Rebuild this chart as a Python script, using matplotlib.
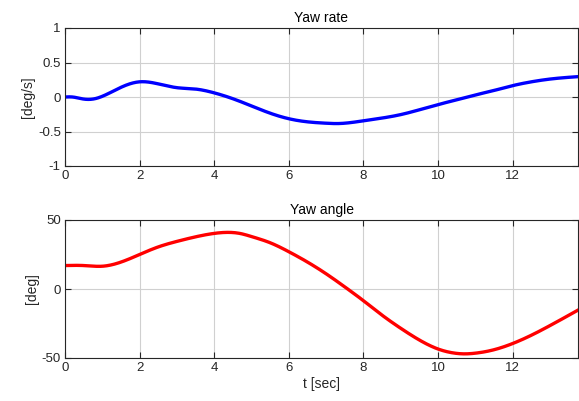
import matplotlib
matplotlib.use("Agg")
import matplotlib.pyplot as plt
import numpy as np

plt.rcParams['font.family'] = ['Liberation Sans', 'DejaVu Sans']
plt.rcParams['axes.unicode_minus'] = False

t_rate = [0, 0.2, 0.5, 0.8, 1.0, 1.5, 2.0, 2.5, 3.0, 3.5, 4.0, 4.5, 5.0, 5.5, 6.0,
          6.5, 7.0, 7.3, 8.0, 8.5, 9.0, 9.5, 10.0, 10.5, 11.0, 11.5, 12.0, 12.5, 13.0, 13.75]
yaw_rate = [0.0, 0.0, -0.03, -0.025, 0.01, 0.14, 0.22, 0.19, 0.135, 0.115, 0.06, -0.025, -0.13, -0.235, -0.315,
            -0.36, -0.38, -0.385, -0.345, -0.305, -0.255, -0.185, -0.11, -0.04, 0.03, 0.095, 0.165, 0.22, 0.26, 0.295]

t_angle = [0, 0.5, 1.0, 1.5, 2.0, 2.5, 3.0, 3.5, 4.0, 4.3, 4.7, 5.0, 5.5, 6.0, 6.5, 7.0, 7.5, 8.0,
           8.5, 9.0, 9.5, 10.0, 10.4, 10.7, 11.0, 11.5, 12.0, 12.5, 13.0, 13.75]
yaw_angle = [17.0, 17.0, 16.5, 19.5, 25.0, 30.5, 34.5, 37.8, 40.3, 41.0, 40.2, 38.0, 33.5, 27.0, 19.5, 11.0, 1.5, -8.5,
             -19.0, -28.5, -37.0, -43.5, -46.3, -47.0, -46.5, -44.0, -39.5, -33.5, -26.5, -15.3]

x_ticks = [0, 2, 4, 6, 8, 10, 12]
rate_ticks = [-1, -0.5, 0, 0.5, 1]
rate_labels = ['-1', '-0.5', '0', '0.5', '1']
angle_ticks = [-50, 0, 50]

def smooth(tk, yk, n=800):
    x = np.asarray(tk, float); y = np.asarray(yk, float)
    nk = len(x); h = np.diff(x)
    A = np.zeros((nk, nk)); r = np.zeros(nk)
    A[0, 0] = 1; A[-1, -1] = 1
    for i in range(1, nk - 1):
        A[i, i-1] = h[i-1]; A[i, i] = 2*(h[i-1] + h[i]); A[i, i+1] = h[i]
        r[i] = 6*((y[i+1]-y[i])/h[i] - (y[i]-y[i-1])/h[i-1])
    M = np.linalg.solve(A, r)
    tt = np.linspace(x[0], x[-1], n)
    idx = np.clip(np.searchsorted(x, tt) - 1, 0, nk - 2)
    x0 = x[idx]; x1 = x[idx+1]; hh = h[idx]
    yy = (M[idx]*(x1-tt)**3 + M[idx+1]*(tt-x0)**3)/(6*hh) \
        + (y[idx]/hh - M[idx]*hh/6)*(x1-tt) + (y[idx+1]/hh - M[idx+1]*hh/6)*(tt-x0)
    return tt, yy

fig = plt.figure(figsize=(5.79, 4.01), dpi=100)
W = 579; H = 401
left = 65 / W; width = (578 - 65) / W
ax1 = fig.add_axes([left, 1 - 166 / H, width, 138 / H])
ax2 = fig.add_axes([left, 1 - 358 / H, width, 138 / H])

tc = '#262626'
for ax in (ax1, ax2):
    ax.set_xlim(0, 13.75)
    ax.set_xticks(x_ticks)
    ax.grid(True, color='#d0d0d0', linewidth=0.8)
    ax.set_axisbelow(True)
    ax.tick_params(direction='in', top=True, right=True, labelsize=9.5, colors=tc,
                   length=4, width=0.8, pad=3)
    for sp in ax.spines.values():
        sp.set_color(tc); sp.set_linewidth(0.8)

tt, yy = smooth(t_rate, yaw_rate)
ax1.plot(tt, yy, color='#0000ff', linewidth=2.4)
ax1.set_ylim(-1, 1)
ax1.set_yticks(rate_ticks)
ax1.set_yticklabels(rate_labels)
ax1.set_title('Yaw rate', fontsize=10, color='black', pad=4)
ax1.set_ylabel('[deg/s]', fontsize=10, color=tc, labelpad=2)

tt, yy = smooth(t_angle, yaw_angle)
ax2.plot(tt, yy, color='#ff0000', linewidth=2.4)
ax2.set_ylim(-50, 50)
ax2.set_yticks(angle_ticks)
ax2.set_title('Yaw angle', fontsize=10, color='black', pad=4)
ax2.set_ylabel('[deg]', fontsize=10, color=tc, labelpad=2)
ax2.set_xlabel('t [sec]', fontsize=10, color=tc, labelpad=2)

fig.savefig('out.png', dpi=100)
